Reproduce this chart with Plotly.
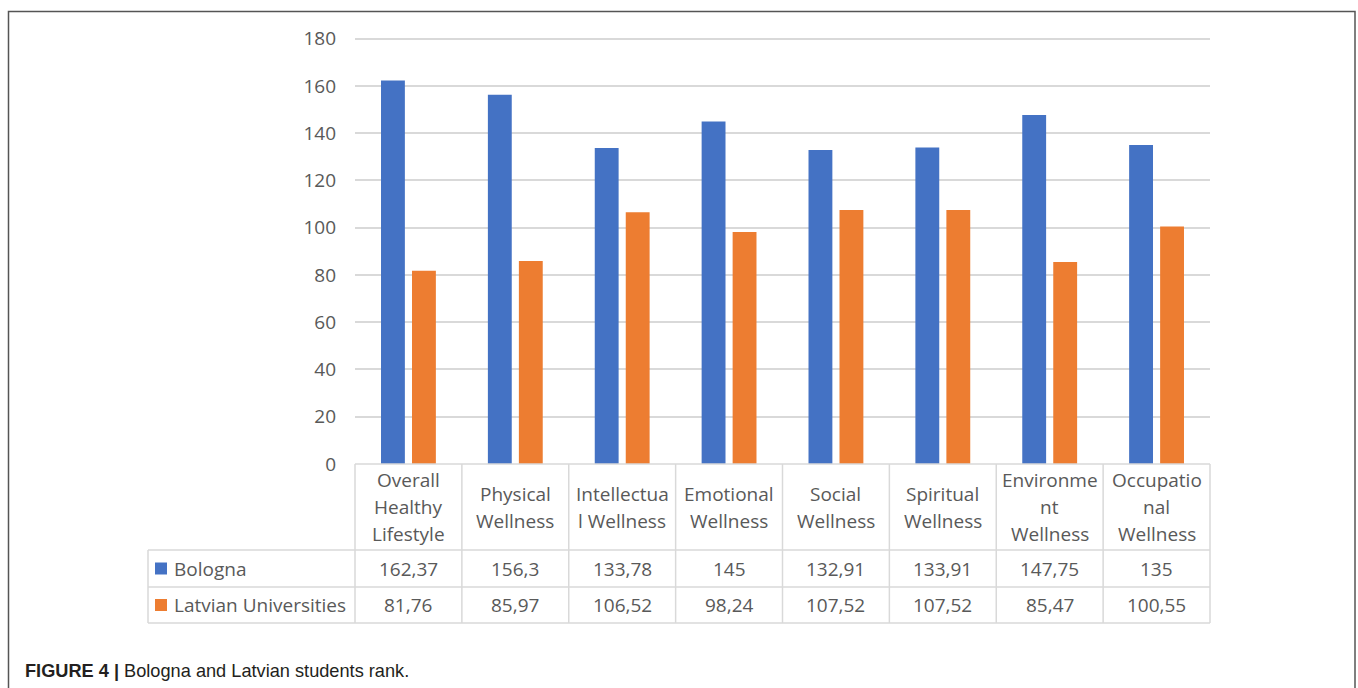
import plotly.graph_objects as go

categories = ["Overall<br>Healthy<br>Lifestyle", "Physical<br>Wellness", "Intellectua<br>l Wellness",
              "Emotional<br>Wellness", "Social<br>Wellness", "Spiritual<br>Wellness",
              "Environme<br>nt<br>Wellness", "Occupatio<br>nal<br>Wellness"]
series_names = ["Bologna", "Latvian Universities"]
bologna = [162.37, 156.3, 133.78, 145, 132.91, 133.91, 147.75, 135]
latvian = [81.76, 85.97, 106.52, 98.24, 107.52, 107.52, 85.47, 100.55]
colors = ["#4472C4", "#ED7D31"]
y_ticks = [0, 20, 40, 60, 80, 100, 120, 140, 160, 180]

W, H = 1358, 688
YMAX = 182
PXU = 425 / 180
L, R, B = 355, 1210, 464
T = round(B - YMAX * PXU)
FONT = "Open Sans"
TXT = "#595959"
LINE = "#D9D9D9"


def px(xp):
    return (xp - L) / (R - L)


def py(yp):
    return (B - yp) / (B - T)


xs = list(range(len(categories)))
fig = go.Figure()
for name, vals, c in zip(series_names, [bologna, latvian], colors):
    fig.add_trace(go.Bar(x=xs, y=vals, name=name, marker=dict(color=c, line=dict(width=0))))

fig.update_layout(
    width=W, height=H, autosize=False,
    margin=dict(l=L, r=W - R, t=T, b=H - B),
    paper_bgcolor="white", plot_bgcolor="white",
    barmode="group", bargap=0.42, bargroupgap=0.23,
    showlegend=False,
    font=dict(family=FONT, size=19, color=TXT),
    xaxis=dict(range=[-0.5, len(categories) - 0.5], showticklabels=False, showgrid=False,
               zeroline=False, showline=False, ticks=""),
    yaxis=dict(range=[0, YMAX], tickvals=y_ticks, showgrid=True, gridcolor=LINE, gridwidth=1.5,
               zeroline=False, showline=False, ticks="", ticklabelstandoff=18,
               tickfont=dict(family=FONT, size=19, color=TXT)),
)

shapes = []
line_style = dict(color=LINE, width=1.5)
row_y = [464, 550, 587, 623]
shapes.append(dict(type="line", xref="paper", yref="paper", x0=0, x1=1, y0=py(464), y1=py(464), line=line_style))
for yy in row_y[1:]:
    shapes.append(dict(type="line", xref="paper", yref="paper", x0=px(148), x1=1, y0=py(yy), y1=py(yy), line=line_style))
shapes.append(dict(type="line", xref="paper", yref="paper", x0=px(148), x1=px(148), y0=py(550), y1=py(623), line=line_style))
for i in range(len(categories) + 1):
    xb = i / len(categories)
    shapes.append(dict(type="line", xref="paper", yref="paper", x0=xb, x1=xb, y0=py(464), y1=py(623), line=line_style))
for c, yc in zip(colors, [568.5, 605]):
    shapes.append(dict(type="rect", xref="paper", yref="paper", x0=px(155), x1=px(167), y0=py(yc - 6), y1=py(yc + 6),
                       fillcolor=c, line=dict(width=0)))
shapes.append(dict(type="rect", xref="paper", yref="paper", x0=px(8.5), x1=px(1355), y0=py(11.5), y1=py(720),
                   line=dict(color="#555555", width=1.5), fillcolor="rgba(0,0,0,0)"))

annotations = []
for i, cat in enumerate(categories):
    lines = cat.split("<br>")
    n = len(lines)
    for j, ln in enumerate(lines):
        yc = 507 + (j - (n - 1) / 2) * 27
        annotations.append(dict(x=i, xref="x", y=py(yc), yref="paper", text=ln, showarrow=False,
                                xanchor="center", yanchor="middle", font=dict(size=19, color=TXT, family=FONT)))


def fmt(v):
    return f"{v:g}".replace(".", ",")


for name, vals, yc in zip(series_names, [bologna, latvian], [568.5, 605]):
    annotations.append(dict(x=px(172), xref="paper", y=py(yc), yref="paper", text=name, showarrow=False,
                            xanchor="left", yanchor="middle", font=dict(size=19, color=TXT, family=FONT)))
    for i, v in enumerate(vals):
        annotations.append(dict(x=i, xref="x", y=py(yc), yref="paper", text=fmt(v), showarrow=False,
                                xanchor="center", yanchor="middle", font=dict(size=19, color=TXT, family=FONT)))

annotations.append(dict(x=px(23), xref="paper", y=py(671), yref="paper",
                        text="<b>FIGURE 4 |</b> Bologna and Latvian students rank.", showarrow=False,
                        xanchor="left", yanchor="middle",
                        font=dict(size=18.2, color="#231F20", family="Liberation Sans")))

fig.update_layout(shapes=shapes, annotations=annotations)
fig.write_html("out.html", config={"displayModeBar": False},
               post_script="document.body.style.margin='0';document.body.style.overflow='hidden';")
